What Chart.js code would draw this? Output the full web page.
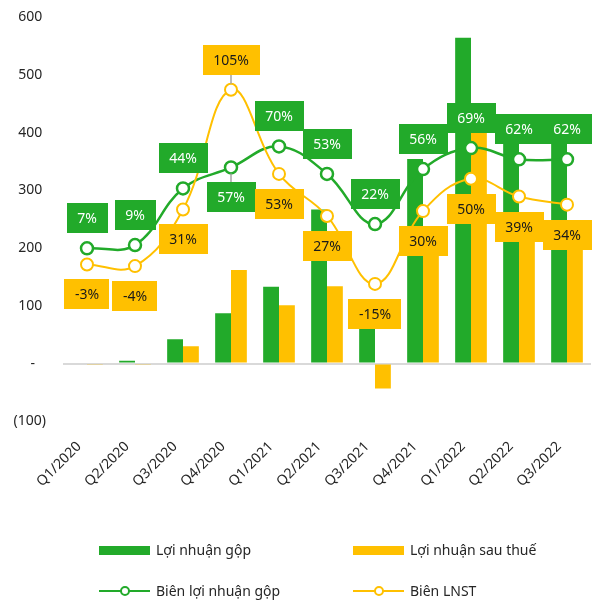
<!DOCTYPE html>
<html>
<head>
<meta charset="utf-8">
<script src="https://cdn.jsdelivr.net/npm/chart.js@4/dist/chart.umd.min.js"></script>
<style>
  body { margin: 0; background: #fff; font-family: "Noto Sans", sans-serif; }
  #wrap { position: relative; width: 594px; height: 600px; }
  #myChart { display: block; }
  .leg { position: absolute; font-size: 14px; color: #262626; line-height: 20px; white-space: nowrap; height: 20px; width: 220px; }
  .leg .box { position: absolute; left: 0; top: 5.5px; width: 51px; height: 9px; }
  .leg .ln { position: absolute; left: 0; top: 8.75px; width: 51px; height: 2.5px; }
  .leg .dot { position: absolute; left: 21px; top: 5px; width: 6px; height: 6px; border-radius: 50%; background: #fff; border: 2px solid; }
  .leg .t { position: absolute; left: 57px; top: 0; }
</style>
</head>
<body>
<div id="wrap">
  <canvas id="myChart" width="594" height="600"></canvas>
  <div class="leg" style="left:99px;top:540px"><span class="box" style="background:#22aa2a"></span><span class="t">Lợi nhuận gộp</span></div>
  <div class="leg" style="left:353px;top:540px"><span class="box" style="background:#ffc000"></span><span class="t">Lợi nhuận sau thuế</span></div>
  <div class="leg" style="left:99px;top:581px"><span class="ln" style="background:#22aa2a"></span><span class="dot" style="border-color:#22aa2a"></span><span class="t">Biên lợi nhuận gộp</span></div>
  <div class="leg" style="left:353px;top:581px"><span class="ln" style="background:#ffc000"></span><span class="dot" style="border-color:#ffc000"></span><span class="t">Biên LNST</span></div>
</div>
<script>
const quarters = ["Q1/2020", "Q2/2020", "Q3/2020", "Q4/2020", "Q1/2021", "Q2/2021", "Q3/2021", "Q4/2021", "Q1/2022", "Q2/2022", "Q3/2022"];
const grossProfit = [2, 5, 42, 87, 133, 267, 65, 354, 564, 400, 390];
const netProfit = [-1, -2, 30, 162, 101, 134, -43, 190, 400, 250, 214];
const grossMargin = [7, 9, 44, 57, 70, 53, 22, 56, 69, 62, 62];
const netMargin = [-3, -4, 31, 105, 53, 27, -15, 30, 50, 39, 34];
const yTicks = [-100, 0, 100, 200, 300, 400, 500, 600];

const green = "#22aa2a";
const yellow = "#ffc000";

// label side for each point (style only)
const grossSide = ["up", "up", "up", "down", "up", "up", "up", "up", "up", "up", "up"];
const netSide = ["down", "down", "down", "up", "down", "down", "down", "down", "down", "down", "down"];
const leaderAt = [3];

const ctx = document.getElementById("myChart").getContext("2d");
const FONT = '"Noto Sans", sans-serif';

const boxLabels = {
    id: "boxLabels",
    afterDatasetsDraw(chart) {
        const c = chart.ctx;
        const sets = [
            { idx: 2, vals: grossMargin, side: grossSide, bg: green, fg: "#ffffff" },
            { idx: 3, vals: netMargin, side: netSide, bg: yellow, fg: "#1a1a1a" }
        ];
        c.save();
        c.font = "14px " + FONT;
        c.textAlign = "center";
        c.textBaseline = "middle";
        sets.forEach(s => {
            const pts = chart.getDatasetMeta(s.idx).data;
            pts.forEach((p, i) => {
                const txt = s.vals[i] + "%";
                const w = c.measureText(txt).width + 21;
                const h = 30;
                const dir = s.side[i] === "up" ? -1 : 1;
                const cy = p.y + dir * 30;
                if (leaderAt.includes(i)) {
                    c.strokeStyle = "#a6a6a6";
                    c.lineWidth = 1.5;
                    c.beginPath();
                    c.moveTo(p.x, p.y + dir * 6);
                    c.lineTo(p.x, cy - dir * h / 2);
                    c.stroke();
                }
                c.fillStyle = s.bg;
                c.fillRect(Math.round(p.x - w / 2), Math.round(cy - h / 2), Math.round(w), h);
                c.fillStyle = s.fg;
                c.fillText(txt, p.x, cy + 1);
            });
        });
        c.restore();
    }
};

const data = {
    labels: quarters,
    datasets: [
        {
            type: "bar",
            label: "Lợi nhuận gộp",
            data: grossProfit,
            backgroundColor: green,
            order: 2
        },
        {
            type: "bar",
            label: "Lợi nhuận sau thuế",
            data: netProfit,
            backgroundColor: yellow,
            order: 3
        },
        {
            type: "line",
            label: "Biên lợi nhuận gộp",
            data: grossMargin,
            yAxisID: "y1",
            borderColor: green,
            borderWidth: 2.5,
            pointRadius: 6,
            pointBorderWidth: 2.5,
            pointBackgroundColor: "#fff",
            pointBorderColor: green,
            tension: 0.4,
            order: 1
        },
        {
            type: "line",
            label: "Biên LNST",
            data: netMargin,
            yAxisID: "y1",
            borderColor: yellow,
            borderWidth: 2,
            pointRadius: 6,
            pointBorderWidth: 2,
            pointBackgroundColor: "#fff",
            pointBorderColor: yellow,
            tension: 0.4,
            order: 0
        }
    ]
};

const config = {
    type: "bar",
    data: data,
    plugins: [boxLabels],
    options: {
        responsive: false,
        animation: false,
        datasets: {
            bar: { categoryPercentage: 0.66, barPercentage: 1 }
        },
        layout: { autoPadding: false, padding: { top: 17, right: 3, left: 0, bottom: 101 } },
        plugins: {
            legend: { display: false },
            tooltip: { enabled: false }
        },
        scales: {
            x: {
                grid: { display: false },
                border: { display: false },
                afterFit: axis => { axis.paddingLeft = 0; axis.paddingRight = 0; },
                ticks: {
                    color: "#262626",
                    font: { family: FONT, size: 14 },
                    minRotation: 45,
                    maxRotation: 45,
                    padding: 9,
                    labelOffset: -8
                }
            },
            y: {
                min: -100,
                max: 600,
                afterBuildTicks: axis => { axis.ticks = yTicks.map(v => ({ value: v })); },
                afterFit: axis => { axis.width = 63; axis.paddingTop = 0; axis.paddingBottom = 0; },
                border: { display: false },
                grid: {
                    drawTicks: false,
                    color: c => c.tick && c.tick.value === 0 ? "#d9d9d9" : "rgba(0,0,0,0)",
                    lineWidth: c => c.tick && c.tick.value === 0 ? 2 : 0
                },
                ticks: {
                    color: "#262626",
                    font: { family: FONT, size: 14 },
                    padding: 17,
                    callback: v => v === 0 ? "-   " : (v < 0 ? "(" + (-v) + ")" : v + " ")
                }
            },
            y1: {
                display: false,
                min: -100,
                max: 150
            }
        }
    }
};

const myChart = new Chart(ctx, config);
</script>
</body>
</html>
